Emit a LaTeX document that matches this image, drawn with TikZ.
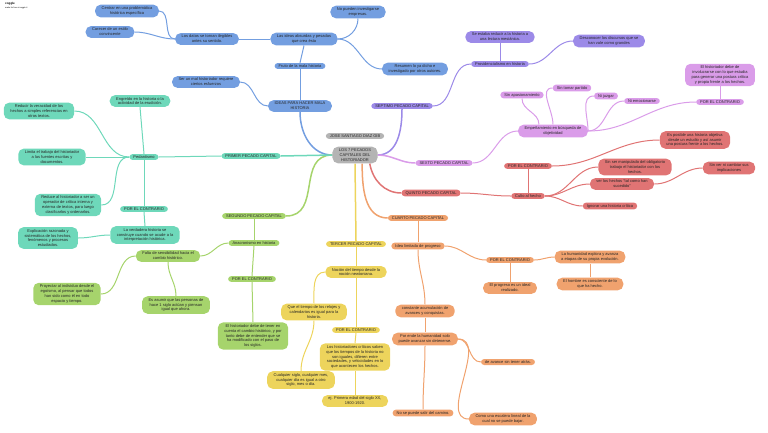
\documentclass[tikz,border=0pt]{standalone}
\usepackage{fontspec}
\setmainfont{Liberation Sans}
\usetikzlibrary{backgrounds}
\definecolor{cgrey}{HTML}{B4B4B4}
\definecolor{cblue}{HTML}{739EE0}
\definecolor{cpurp}{HTML}{9C8AE8}
\definecolor{cpink}{HTML}{DA9CE9}
\definecolor{cred}{HTML}{E07474}
\definecolor{corange}{HTML}{F0A26E}
\definecolor{cyellow}{HTML}{EDD45C}
\definecolor{cgreen}{HTML}{A6D46C}
\definecolor{cteal}{HTML}{6ED8BA}
\begin{document}
\begin{tikzpicture}[x=1pt,y=1pt,
 nd/.style={fill=#1, rounded corners=3.2pt, align=center, inner xsep=4pt, inner ysep=1.5pt, font=\fontsize{4}{4.9}\selectfont, text=black!85},
 nm/.style={nd=#1, rounded corners=5.5pt, inner xsep=6.5pt, inner ysep=2pt},
 ln/.style={draw=#1, line width=1pt},
 lm/.style={draw=#1, line width=1.5pt}]
\useasboundingbox (0,0) rectangle (768,-432);
\node[font=\fontsize{3}{3}\selectfont\bfseries, anchor=north west, inner sep=0pt] (wm1) at (5,-2) {coggle};
\node[font=\fontsize{2}{2}\selectfont, anchor=north west, inner sep=0pt] (wm2) at (5,-6.5) {made for free at coggle.it};

% center
\node[nd=cgrey] (auth) at (355,-136) {JOSE SANTIAGO DIAZ GIB};
\node[nm=cgrey] (c) at (355,-155) {LOS 7 PECADOS\\CAPITALES DEL\\HISTORIADOR};

% blue
\node[nm=cblue] (ideas) at (300,-106) {IDEAS PARA HACER MALA\\HISTORIA};
\node[nd=cblue] (fruto) at (300,-66) {Fruto de la mala historia};
\node[nm=cblue] (absurd) at (304,-39) {Las ideas absurdas y pesadas\\que crea ésta};
\node[nm=cblue] (datos) at (207,-39) {Los datos se tornan ilegibles\\antes su sentido.};
\node[nm=cblue] (evoluc) at (127,-11) {Centrar en una problemática\\histórica específica};
\node[nm=cblue] (carecer) at (110,-32) {Carecer de un estilo\\convincente};
\node[nm=cblue] (nopueden) at (358,-12) {No pueden investigarse\\empresas.};
\node[nm=cblue] (resumen) at (415,-69) {Resumen lo ya dicho e\\investigado por otros autores.};
\node[nm=cblue] (ser) at (206,-82) {Ser un mal historiador requiere\\ciertos esfuerzos};

% purple
\node[nd=cpurp] (septimo) at (402,-106) {SEPTIMO PECADO CAPITAL};
\node[nd=cpurp] (provid) at (500,-64) {Providencialismo en historia};
\node[nm=cpurp] (seestaba) at (500,-37) {Se estaba reducir a la historia a\\una lectura mesiánica.};
\node[nm=cpurp] (descon) at (609,-41) {Desconocer los discursos que se\\han vale como grandes};

% pink
\node[nd=cpink] (sexto) at (444,-163) {SEXTO PECADO CAPITAL};
\node[nm=cpink] (empeno) at (553,-131) {Empeñamiento en búsqueda de\\objetividad};
\node[nd=cpink] (sinapas) at (522,-95) {Sin apasionamiento};
\node[nd=cpink] (sintomar) at (572,-88) {Sin tomar partido};
\node[nd=cpink] (nijuzgar) at (606,-96) {Ni juzgar};
\node[nd=cpink] (niemoc) at (642,-101) {Ni emocionarse};
\node[nd=cpink] (porc6) at (720,-102) {POR EL CONTRARIO};
\node[nm=cpink] (debe6) at (720,-75) {El historiador debe de\\involucrarse con lo que estudia\\para generar una postura crítica\\y propia frente a los hechos.};

% red
\node[nd=cred] (quinto) at (431,-193) {QUINTO PECADO CAPITAL};
\node[nd=cred] (culto) at (528,-196) {Culto al hecho};
\node[nd=cred] (porc5) at (528,-166) {POR EL CONTRARIO};
\node[nm=cred] (esposible) at (695,-140) {Es posible una historia objetiva\\desde un estudio y así asumir\\una postura frente a los hechos.};
\node[nm=cred] (sinser) at (635,-167) {Sin ser manipulado del obligatorio\\trabajo el historiador con los\\hechos.};
\node[nm=cred] (ver) at (622,-184) {ver los hechos "tal como han\\sucedido"};
\node[nm=cred] (sinver) at (729,-168) {Sin ver ni cambiar sus\\implicaciones};
\node[nd=cred] (ignorar) at (610,-206) {Ignorar una historia crítica};

% orange
\node[nd=corange] (cuarto) at (418,-218) {CUARTO PECADO CAPITAL};
\node[nd=corange] (idea) at (418,-246) {Idea limitada de progreso};
\node[nd=corange] (porc4) at (510,-260) {POR EL CONTRARIO};
\node[nm=corange] (humanidad) at (590,-257) {La humanidad explora y avanza\\a etapas de su propia evolución.};
\node[nm=corange] (hombre) at (590,-284) {El hombre es consciente de lo\\que ha hecho.};
\node[nm=corange] (progreso) at (510,-288) {El progreso es un ideal\\realizado.};
\node[nm=corange] (constante) at (425,-311) {constante acumulación de\\avances y conquistas.};
\node[nm=corange] (porende) at (425,-339) {Por ende la humanidad solo\\puede avanzar sin detenerse.};
\node[nd=corange] (avance) at (508,-362) {de avance sin tener atrás.};
\node[nm=corange] (escalera) at (503,-419) {Como una escalera lineal de la\\cual no se puede bajar.};
\node[nd=corange] (nosale) at (423,-413) {No se puede salir del camino.};

% yellow
\node[nd=cyellow] (tercer) at (356,-244) {TERCER PECADO CAPITAL};
\node[nm=cyellow] (nocion) at (356,-272) {Noción del tiempo desde la\\noción newtoniana.};
\node[nm=cyellow] (queel) at (314,-312) {Que el tiempo de los relojes y\\calendarios es igual para la\\historia.};
\node[nm=cyellow] (cualq) at (301,-380) {Cualquier siglo, cualquier mes,\\cualquier día es igual a otro\\siglo, mes o día.};
\node[nd=cyellow] (porc3) at (356,-330) {POR EL CONTRARIO};
\node[nm=cyellow] (criticos) at (355,-357) {Los historiadores críticos saben\\que los tiempos de la historia no\\son iguales, difieren entre\\sociedades, y velocidades en lo\\que acontecen los hechos.};
\node[nm=cyellow] (ej) at (355,-401) {ej. Primera edad del siglo XX,\\1900-1920.};

% green
\node[nd=cgreen] (segundo) at (254,-216) {SEGUNDO PECADO CAPITAL};
\node[nd=cgreen] (anacron) at (254,-243) {Anacronismo en historia};
\node[nm=cgreen] (falta) at (168,-256) {Falta de sensibilidad hacia el\\cambio histórico.};
\node[nm=cgreen] (proyectar) at (67,-294) {Proyectar al individuo desde el\\egoísmo, al pensar que todos\\han sido como él en todo\\espacio y tiempo.};
\node[nm=cgreen] (asumir) at (176,-305) {Es asumir que las personas de\\hace 1 siglo actúan y piensan\\igual que ahora.};
\node[nd=cgreen] (porc2) at (252,-279) {POR EL CONTRARIO};
\node[nm=cgreen] (debe2) at (253,-336) {El historiador debe de tener en\\cuenta el cambio histórico, y por\\tanto debe de entender que se\\ha modificado con el paso de\\los siglos.};

% teal
\node[nd=cteal] (primer) at (251,-156) {PRIMER PECADO CAPITAL};
\node[nd=cteal] (pedant) at (144,-157) {Pedantismo};
\node[nm=cteal] (engreido) at (140,-101) {Engreído en la historia o la\\actividad de la erudición.};
\node[nm=cteal] (reducir) at (39,-111) {Reducir la veracidad de los\\hechos a simples referencias en\\otros textos.};
\node[nm=cteal] (limita) at (52,-157) {Limita el trabajo del historiador\\a las fuentes escritas y\\documentos.};
\node[nm=cteal] (reduce) at (68,-205) {Reduce al historiador a ser un\\operador de crítica interna y\\externa de textos, para luego\\clasificarlos y ordenarlos.};
\node[nd=cteal] (porc1) at (144,-209) {POR EL CONTRARIO};
\node[nm=cteal] (verdad) at (145,-235) {La verdadera historia se\\construye cuando se acude a la\\interpretación histórica.};
\node[nm=cteal] (explic) at (48,-238) {Explicación razonada y\\sistemática de los hechos,\\fenómenos y procesos\\estudiados.};

\begin{pgfonlayer}{background}
% blue
\draw[lm=cblue] (ideas.south) to[out=-90,in=180] (c.west);
\draw[ln=cblue] (ideas.west) to[out=180,in=0] (ser.east);
\draw[ln=cblue] (ideas.north) -- (fruto.south);
\draw[ln=cblue] (fruto.north) -- (absurd.south);
\draw[ln=cblue] (absurd.west) -- (datos.east);
\draw[ln=cblue] (datos.west) to[out=180,in=0] (evoluc.east);
\draw[ln=cblue] (datos.west) to[out=180,in=0] (carecer.east);
\draw[ln=cblue] (absurd.east) to[out=0,in=-90] (nopueden.south);
\draw[ln=cblue] (absurd.east) to[out=0,in=180] (resumen.west);
% purple
\draw[lm=cpurp] (c.east) to[out=0,in=-90] (septimo.south);
\draw[ln=cpurp] (septimo.east) to[out=0,in=180] (provid.west);
\draw[ln=cpurp] (provid.north) -- (seestaba.south);
\draw[ln=cpurp] (provid.east) to[out=0,in=180] (descon.west);
% pink
\draw[lm=cpink] (c.east) to[out=0,in=180] (sexto.west);
\draw[ln=cpink] (sexto.east) to[out=0,in=180] (empeno.west);
\draw[ln=cpink] (empeno.155) to[out=90,in=-90] (sinapas.south);
\draw[ln=cpink] (empeno.north) to[out=90,in=180] (sintomar.west);
\draw[ln=cpink] (empeno.east) to[out=90,in=180] (nijuzgar.west);
\draw[ln=cpink] (empeno.east) to[out=0,in=180] (niemoc.west);
\draw[ln=cpink] (empeno.east) to[out=0,in=180] (porc6.west);
\draw[ln=cpink] (porc6.north) -- (debe6.south);
% red
\draw[lm=cred] (c.330) to[out=-80,in=180] (quinto.west);
\draw[ln=cred] (quinto.east) to[out=0,in=180] (culto.west);
\draw[ln=cred] (culto.north) -- (porc5.south);
\draw[ln=cred] (porc5.east) to[out=0,in=180] (esposible.west);
\draw[ln=cred] (culto.east) to[out=0,in=180] (sinser.west);
\draw[ln=cred] (culto.east) to[out=0,in=180] (ver.west);
\draw[ln=cred] (culto.east) to[out=0,in=180] (ignorar.west);
\draw[ln=cred] (ver.east) to[out=0,in=180] (sinver.west);
% orange
\draw[lm=corange] (c.310) to[out=-90,in=180] (cuarto.west);
\draw[ln=corange] (cuarto.south) -- (idea.north);
\draw[ln=corange] (idea.east) to[out=0,in=180] (porc4.west);
\draw[ln=corange] (porc4.east) to[out=0,in=180] (humanidad.west);
\draw[ln=corange] (humanidad.south) -- (hombre.north);
\draw[ln=corange] (porc4.south) -- (progreso.north);
\draw[ln=corange] (idea.south) to[out=-90,in=90] (constante.north);
\draw[ln=corange] (constante.south) -- (porende.north);
\draw[ln=corange] (porende.south) to[out=-90,in=90] (nosale.north);
\draw[ln=corange] (porende.east) to[out=0,in=180] (avance.west);
\draw[ln=corange] (porende.east) to[out=0,in=180] (escalera.west);
% yellow
\draw[lm=cyellow] (c.south) -- (tercer.north);
\draw[ln=cyellow] (tercer.south) -- (nocion.north);
\draw[ln=cyellow] (nocion.west) to[out=180,in=90] (queel.north);
\draw[ln=cyellow] (queel.south) to[out=-90,in=90] (cualq.north);
\draw[ln=cyellow] (nocion.south) -- (porc3.north);
\draw[ln=cyellow] (porc3.south) -- (criticos.north);
\draw[ln=cyellow] (criticos.south) -- (ej.north);
% green
\draw[lm=cgreen] (c.west) to[out=180,in=0,looseness=1.2] (segundo.east);
\draw[ln=cgreen] (segundo.south) -- (anacron.north);
\draw[ln=cgreen] (anacron.west) to[out=180,in=0] (falta.east);
\draw[ln=cgreen] (falta.west) to[out=180,in=0] (proyectar.east);
\draw[ln=cgreen] (falta.south) to[out=-90,in=90] (asumir.north);
\draw[ln=cgreen] (anacron.south) -- (porc2.north);
\draw[ln=cgreen] (porc2.south) -- (debe2.north);
% teal
\draw[lm=cteal] (c.west) -- (primer.east);
\draw[ln=cteal] (primer.west) -- (pedant.east);
\draw[ln=cteal] (pedant.north) -- (engreido.south);
\draw[ln=cteal] (pedant.west) to[out=180,in=0] (reducir.east);
\draw[ln=cteal] (pedant.west) -- (limita.east);
\draw[ln=cteal] (pedant.west) to[out=180,in=0] (reduce.east);
\draw[ln=cteal] (pedant.south) -- (porc1.north);
\draw[ln=cteal] (porc1.south) -- (verdad.north);
\draw[ln=cteal] (verdad.west) to[out=180,in=0] (explic.east);
\end{pgfonlayer}
\end{tikzpicture}
\end{document}
